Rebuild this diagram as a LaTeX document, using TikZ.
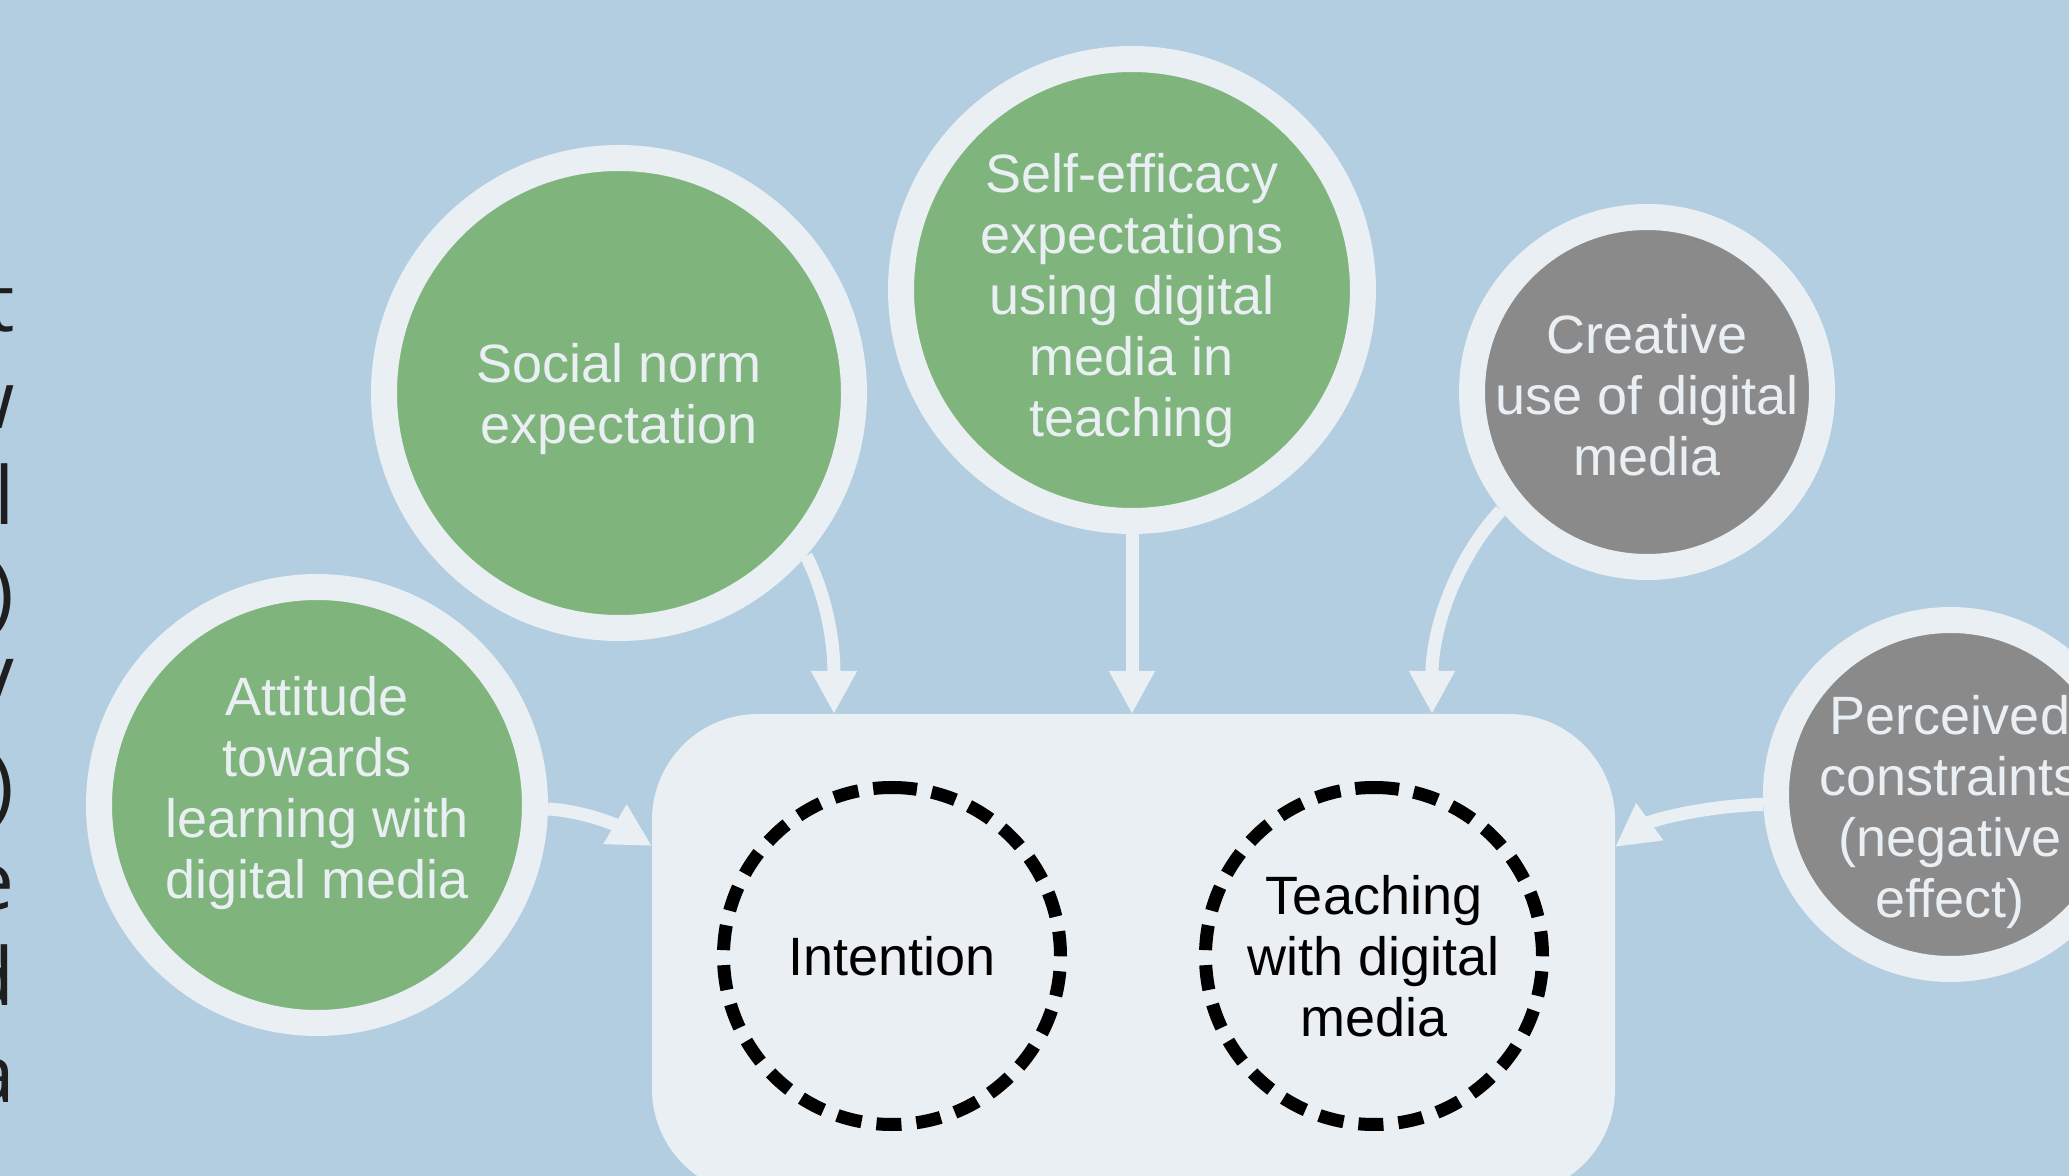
\documentclass[tikz,border=0pt]{standalone}
\usepackage{fontspec}
\setmainfont{Liberation Sans}
\newfontfamily\sidefont{Open Sans}
\usetikzlibrary{arrows.meta,calc}
\definecolor{bgblue}{HTML}{B3CEE1}
\definecolor{paleface}{HTML}{E9EFF3}
\definecolor{leafgreen}{HTML}{7FB57D}
\definecolor{stonegray}{HTML}{8A8A8A}
\definecolor{inkdark}{HTML}{1E1E1E}

\begin{document}
\begin{tikzpicture}[x=0.5pt,y=-0.5pt,
  factor/.style={circle, draw=paleface, line width=13pt, inner sep=0pt, minimum size=#1},
  greenfactor/.style={factor=#1, fill=leafgreen},
  grayfactor/.style={factor=#1, fill=stonegray},
  factortext/.style={align=center, text=paleface, inner sep=0pt,
    font=\fontsize{27pt}{30.5pt}\selectfont},
  outcome/.style={circle, inner sep=0pt, outer sep=0pt, minimum size=168.5pt,
    align=center, text=black, font=\fontsize{27pt}{30.5pt}\selectfont},
  dashring/.style={draw=black, line width=6.5pt, dash pattern=on 12.5pt off 7.5pt},
  flow/.style={draw=paleface, line width=6.5pt, -{Triangle[length=21.5pt,width=21.5pt]}},
  hubbox/.style={rectangle, fill=paleface, rounded corners=53pt, inner sep=0pt,
    outer sep=0pt, minimum width=481.5pt, minimum height=240.5pt},
  sideglyph/.style={anchor=base east, inner sep=0pt, text=inkdark,
    font=\sidefont\fontsize{40pt}{48pt}\selectfont},
]
\path[use as bounding box] (0,0) rectangle (2069,1176);
\clip (0,0) rectangle (2069,1176);
\fill[bgblue] (0,0) rectangle (2069,1176);

% line endings of the neighbouring text column
\foreach \ch [count=\k] in {t,w,l,),V,),e,d,a}
  \node[sideglyph] (edge\k) at (15,{332+96.25*(\k-1)}) {\ch};

% central box with the two outcomes
\node[hubbox] (hub) at (1133.5,954.5) {};
\node[outcome] (int) at (892,956) {Intention};
\node[outcome] (teach) at (1374,956) {Teaching\\with digital\\media};
\draw[dashring] (int.north) arc[start angle=90, delta angle=-360, radius=84.25pt];
\draw[dashring] (teach.north) arc[start angle=90, delta angle=-360, radius=84.25pt];

% predictors
\node[greenfactor=218pt] (att) at (317,805) {};
\node[greenfactor=235pt] (soc) at (619,393) {};
\node[greenfactor=231pt] (self) at (1132,290) {};
\node[grayfactor=175pt] (cre) at (1647,392) {};
\node[grayfactor=174.5pt] (per) at (1950.5,794.5) {};

\node[factortext] (att-t) at (317,793) {Attitude\\towards\\learning with\\digital media};
\node[factortext] (soc-t) at (619,399) {Social norm\\expectation};
\node[factortext] (self-t) at (1132,301) {Self-efficacy\\expectations\\using digital\\media in\\teaching};
\node[factortext] (cre-t) at (1647,395) {Creative\\use of digital\\media};
\node[factortext] (per-t) at (1950,812) {Perceived\\constraints\\(negative\\effect)};

% effects on the outcome box
\draw[flow] (soc.-41) .. controls (826,595) and (834,640) .. ($(hub.north west)+(182,0)$);
\draw[flow] (self.south) -- (hub.north -| self.south);
\draw[flow] (cre.219) .. controls (1455,560) and (1432,630) .. ($(hub.north west)+(780,0)$);
\draw[flow] (att.-1) .. controls (585,811) and (618,826) .. ($(hub.north west)+(0,132)$);
\draw[flow] (per.183) .. controls (1705,806) and (1652,820) .. ($(hub.north east)+(0,133)$);
\end{tikzpicture}
\end{document}
